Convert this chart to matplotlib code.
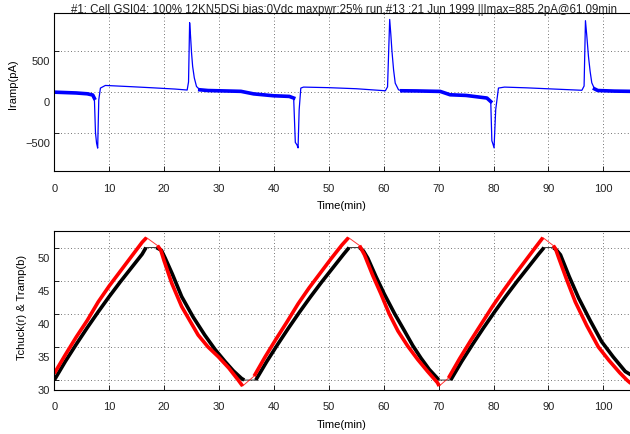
import numpy as np
import matplotlib
matplotlib.use('Agg')
import matplotlib.pyplot as plt
from matplotlib.transforms import ScaledTranslation

plt.rcParams['font.family'] = ['Liberation Sans', 'DejaVu Sans']
plt.rcParams['font.size'] = 8

title = "#1: Cell GSI04: 100% 12KN5DSi bias:0Vdc maxpwr:25% run,#13 :21 Jun 1999 ||Imax=885.2pA@61.09min"

# ---------------- top panel: ramp current (pA) vs time (min) ----------------
iramp_t = [0, 2, 4, 6, 7.0, 7.3, 7.5, 7.7, 7.9, 8.1, 8.4, 9.3, 10, 14, 18, 22, 24.2,
           24.45, 24.65, 24.8, 25.0, 25.2, 25.5, 25.9, 26.5, 28, 31, 34, 36.3, 39.9, 42.8, 43.6,
           43.9, 44.2, 44.4, 44.6, 44.9, 45.4, 50, 55, 60.3,
           60.7, 61.09, 61.3, 61.5, 61.8, 62.1, 62.7, 63.3, 66, 70.3, 72.1, 75, 78.8,
           79.5, 79.7, 79.9, 80.1, 80.4, 80.9, 82, 86, 89.7, 96.1,
           96.5, 96.75, 97.0, 97.3, 97.6, 97.9, 98.4, 99, 102, 105]
iramp_pa = [-5, -10, -15, -25, -40, -80, -500, -630, -690, -100, 45, 77, 75, 62, 48, 33, 21,
            120, 845, 700, 475, 310, 170, 65, 24, 15, 10, 5, -26, -49, -57, -77,
            -620, -650, -687, -222, 45, 57, 50, 37, 12,
            60, 885, 700, 500, 268, 105, 24, 12, 10, 4, -37, -45, -77,
            -120, -600, -640, -687, -220, 45, 57, 48, 37, 18,
            70, 870, 680, 430, 250, 110, 35, 15, 8, 5]
noisy_spans = [(0, 7.3), (26.5, 43.6), (63.0, 79.5), (98.4, 105)]

# ---------------- bottom panel: temperatures ----------------
tchuck_t = [0, 2, 4, 6, 8, 10, 12, 14, 16, 16.8,
            18.8, 19.4, 20.0, 21.4, 23.2, 24.8, 26.2, 28.0, 29.9, 31.8, 33.5, 34.3,
            36.4, 38.4, 40.4, 42.4, 44.4, 46.4, 48.4, 50.4, 52.4, 53.6,
            55.6, 56.5, 58.0, 59.5, 61.0, 62.6, 64.4, 66.2, 68.0, 69.8, 70.1,
            71.8, 73.8, 75.8, 77.8, 79.8, 81.8, 83.8, 85.8, 87.8, 89.0,
            90.9, 91.3, 91.9, 93.4, 94.9, 97.0, 99.1, 101.0, 103.0, 104.3, 105.0]
tchuck_c = [31.0, 33.8, 36.5, 39.0, 41.8, 44.2, 46.4, 48.6, 50.8, 51.5,
            50.3, 49.6, 48.0, 44.6, 41.1, 38.8, 36.8, 35.0, 33.5, 31.8, 30.0, 29.1,
            30.6, 33.5, 36.2, 38.8, 41.5, 43.9, 46.1, 48.3, 50.4, 51.5,
            50.3, 48.9, 45.8, 43.0, 40.0, 37.4, 35.1, 33.1, 31.3, 29.6, 29.1,
            30.3, 33.2, 35.9, 38.5, 41.1, 43.5, 45.8, 48.0, 50.2, 51.5,
            50.3, 49.8, 48.4, 45.0, 41.8, 38.2, 35.0, 33.0, 31.1, 30.0, 29.5]
tchuck_breaks = [10, 22, 32, 43, 53]

tramp_t = [0, 2, 4, 6, 8, 10, 12, 14, 16, 16.7,
           18.6, 19.5, 20.2, 21.5, 23.2, 25.3, 27.4, 29.3, 31.1, 32.6, 34.1, 34.6,
           36.7, 38.7, 40.7, 42.7, 44.7, 46.7, 48.7, 50.7, 52.7, 53.7,
           55.6, 56.3, 57.1, 58.6, 60.1, 62.0, 63.8, 65.3, 66.8, 68.3, 69.8, 70.0,
           72.2, 74.2, 76.2, 78.2, 80.2, 82.2, 84.2, 86.2, 88.2, 89.2,
           90.9, 91.5, 92.2, 93.8, 95.5, 97.6, 99.7, 101.8, 104.0, 105.0]
tramp_c = [30.0, 32.8, 35.4, 37.9, 40.3, 42.6, 44.8, 46.9, 49.0, 50.0,
           50.0, 49.6, 48.4, 46.0, 42.6, 39.5, 36.8, 34.6, 32.8, 31.4, 30.25, 30.0,
           30.0, 32.8, 35.4, 37.9, 40.3, 42.6, 44.8, 46.9, 49.0, 50.0,
           50.0, 49.5, 48.4, 45.6, 43.0, 40.0, 37.4, 35.2, 33.3, 31.6, 30.25, 30.0,
           30.0, 32.8, 35.4, 37.9, 40.3, 42.6, 44.8, 46.9, 49.0, 50.0,
           50.0, 49.6, 48.9, 45.6, 42.4, 39.0, 35.8, 33.5, 31.3, 30.8]
tramp_breaks = [10, 22, 32, 44, 54]

xticks = list(range(0, 101, 10))
top_yticks = [-500, 0, 500]
bot_yticks = [30, 35, 40, 45, 50]

W, H = 630, 434
fig = plt.figure(figsize=(W / 100, H / 100), dpi=100)

left_px, right_px = 54.3, 630
ax1 = fig.add_axes([left_px / W, 1 - 171 / H, (right_px - left_px) / W, (171 - 12.5) / H])
ax2 = fig.add_axes([left_px / W, 1 - 390 / H, (right_px - left_px) / W, (390 - 231) / H])

# top
t = np.array(iramp_t)
I = np.array(iramp_pa, dtype=float)
ax1.plot(t, I, color='#0000ff', lw=0.9)
mask = np.zeros(len(t), bool)
for a, b in noisy_spans:
    mask |= (t >= a) & (t <= b)
ax1.plot(t, np.where(mask, I, np.nan), color='#0000ff', lw=2.6)
ax1.set_ylim(-970, 970)
ax1.set_yticks(top_yticks)
ax1.set_ylabel('Iramp(pA)')
ax1.yaxis.set_label_coords((18 - left_px) / (right_px - left_px), (171 - 84.5) / (171 - 12.5))

# bottom
def draw_temp(ax, tt, cc, breaks, color):
    ax.plot(tt, cc, color=color, lw=0.7, alpha=0.8)
    for seg_t, seg_c in zip(np.split(np.array(tt), breaks), np.split(np.array(cc), breaks)):
        ax.plot(seg_t, seg_c, color=color, lw=2.6, solid_capstyle='butt')

draw_temp(ax2, tramp_t, tramp_c, tramp_breaks, 'black')
draw_temp(ax2, tchuck_t, tchuck_c, tchuck_breaks, '#ff0000')
ax2.set_ylim(28.5, 52.5)
ax2.set_yticks(bot_yticks)
ax2.set_ylabel('Tchuck(r) & Tramp(b)')
ax2.yaxis.set_label_coords((27 - left_px) / (right_px - left_px), (390 - 307.7) / (390 - 231))

off = ScaledTranslation(0, -0.10, fig.dpi_scale_trans)
for ax, hpx in ((ax1, 171 - 12.5), (ax2, 390 - 231)):
    ax.set_xlim(0, (right_px - left_px) / 5.49)
    ax.set_xticks(xticks)
    ax.set_xlabel('Time(min)')
    ax.xaxis.label.set_va('center')
    ax.xaxis.set_label_coords(0.5, -34.6 / hpx)
    ax.grid(True, linestyle=(0, (1, 3)), color='#444444', lw=0.6)
    ax.tick_params(direction='in', length=3.5, width=0.6, colors='black',
                   labelcolor='#222222', labelsize=8)
    ax.tick_params(axis='x', pad=9)
    ax.tick_params(axis='y', pad=3)
    ax.spines['right'].set_visible(False)
    for s in ('left', 'top', 'bottom'):
        ax.spines[s].set_linewidth(0.8)
    for lab in ax.get_yticklabels():
        lab.set_transform(lab.get_transform() + off)

fig.text(344 / W, 1 - 10.5 / H, title, ha='center', va='center', fontsize=8.3, color='#222222')

fig.savefig('out.png', dpi=100)
